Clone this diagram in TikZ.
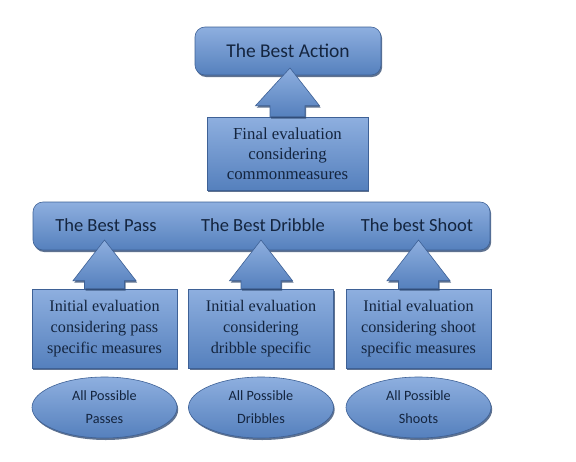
\documentclass[tikz,border=0pt]{standalone}
\usepackage{fontspec}
\setmainfont{Liberation Serif}
\newfontfamily\boxfont{Carlito}
\usetikzlibrary{calc}
\usetikzlibrary{shadows}
\usetikzlibrary{shapes.geometric}

\definecolor{boxtop}{HTML}{8EAFDF}
\definecolor{boxbot}{HTML}{5580BD}
\definecolor{boxline}{HTML}{3E6196}
\definecolor{boxtext}{HTML}{14253F}
\definecolor{boxshade}{HTML}{2A446B}

\tikzset{
  bluefill/.style={draw=boxline, line width=.6pt, top color=boxtop, bottom color=boxbot,
    drop shadow={shadow xshift=1.2pt, shadow yshift=-2pt, fill=boxshade, opacity=.75}},
  titlebox/.style={bluefill, rounded corners=10pt, minimum height=48pt, inner sep=0pt},
  titletext/.style={text=boxtext, inner sep=1pt, font=\boxfont\fontsize{18.5}{22}\selectfont},
  evalbox/.style={bluefill, minimum width=145pt, minimum height=79pt, inner sep=0pt, align=center,
    text=boxtext, font=\fontsize{16.2}{21}\selectfont},
  allset/.style={bluefill, ellipse, minimum width=145pt, minimum height=61pt, inner sep=0pt, align=center,
    text=boxtext, font=\boxfont\fontsize{14.2}{23}\selectfont},
}

\begin{document}
\begin{tikzpicture}[x=1pt, y=-1pt]
\useasboundingbox[fill=white] (0,0) rectangle (576,461);

% top level
\node[titlebox, minimum width=186pt, text=boxtext, font=\boxfont\fontsize{19.5}{23}\selectfont] (action) at (288,51) {The Best Action};

% final evaluation and its arrow
\node[evalbox, minimum width=161pt, minimum height=73pt, font=\fontsize{16.8}{20}\selectfont] (final) at (287.5,153.5) {Final evaluation\\considering\\commonmeasures};
\coordinate (toptip) at (290,68);
\path[bluefill] ($(final.north)+(-17.5,0)$) -- ++(0,-11) -- ++(-14.5,0) -- (toptip)
  -- ($(final.north)+(32,-11)$) -- ++(-14.5,0) -- ++(0,11) -- cycle;

% second level bar
\node[titlebox, minimum width=457pt] (bestbar) at (261.5,226) {};
\node[titletext] (pass) at (106,225) {The Best Pass};
\node[titletext] (dribble) at (263,225) {The Best Dribble};
\node[titletext] (shoot) at (417,225) {The best Shoot};

% three columns
\foreach \i/\x/\txt/\set in {1/104.5/{Initial evaluation\\considering pass\\specific measures}/{All Possible\\Passes},
                            2/261/{Initial evaluation\\considering\\dribble specific}/{All Possible\\Dribbles},
                            3/418.5/{Initial evaluation\\considering shoot\\specific measures}/{All Possible\\Shoots}} {
  \coordinate (tip\i) at (\x,240);
  \node[evalbox] (ev\i) at (\x,328.5) {\txt};
  \path[bluefill] ($(ev\i.north)+(-20,0)$) -- ++(0,-8) -- ++(-11.5,0) -- (tip\i)
    -- ($(ev\i.north)+(31.5,-8)$) -- ++(-11.5,0) -- ++(0,8) -- cycle;
  \node[allset] (all\i) at (\x,407.5) {\set};
}

\end{tikzpicture}
\end{document}
